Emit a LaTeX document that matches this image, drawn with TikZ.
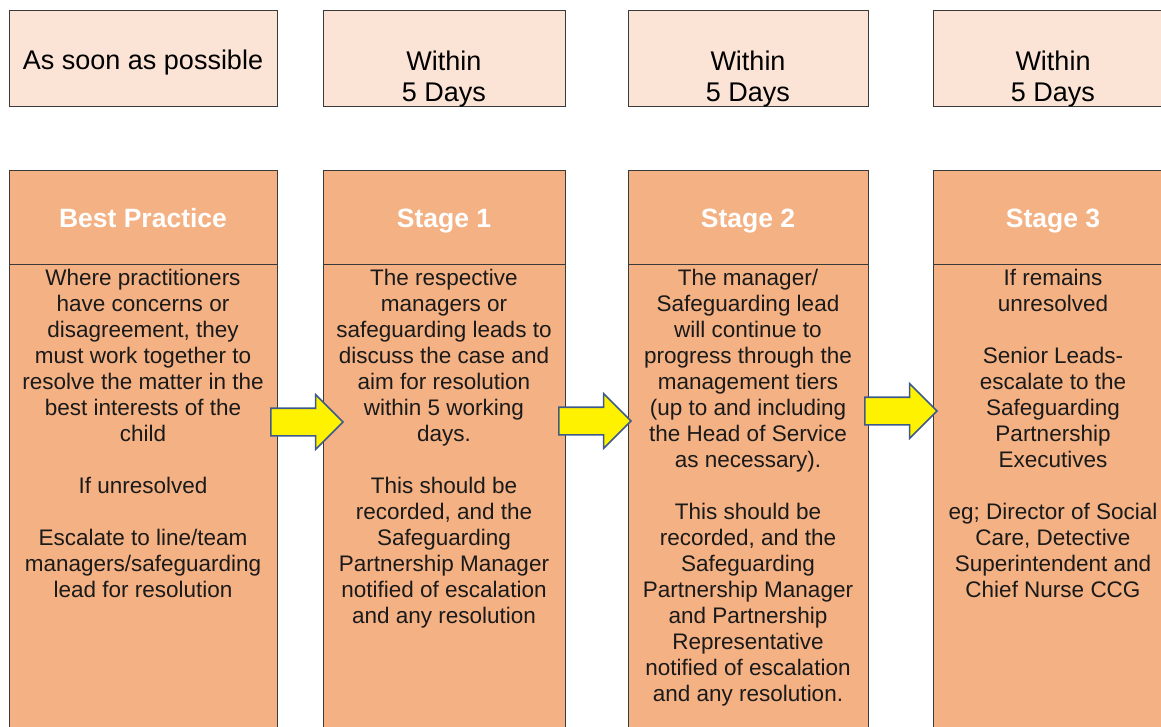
\documentclass[tikz,border=0pt]{standalone}
\usepackage{fontspec}
\setmainfont{Liberation Sans}
\usetikzlibrary{shapes.arrows}
\definecolor{lightpeach}{HTML}{FBE4D5}
\definecolor{peach}{HTML}{F4B183}
\definecolor{edgegrey}{HTML}{3A3A3A}
\definecolor{arrowedge}{HTML}{3E5A8A}
\definecolor{bodyink}{HTML}{1A1A1A}
\begin{document}
\begin{tikzpicture}[x=1pt,y=-1pt,
  frame/.style={draw=edgegrey, line width=1.3pt, anchor=north west, inner sep=0pt},
  topbox/.style={frame, fill=lightpeach},
  hdrbox/.style={frame, fill=peach},
  bodybox/.style={frame, fill=peach},
  toptext/.style={anchor=base, inner sep=0pt, align=center, text=black,
    font=\fontsize{27}{31}\selectfont},
  hdrtext/.style={anchor=base, inner sep=0pt, text=white,
    font=\fontsize{26.5}{30}\selectfont\bfseries},
  bodytext/.style={anchor=base, inner sep=0pt, align=center, text=bodyink,
    font=\fontsize{22.5}{26}\selectfont},
  yarrow/.style={single arrow, draw=arrowedge, line width=1.6pt, fill=yellow,
    inner sep=0pt, text height=13pt, text depth=13pt, text width=0pt,
    single arrow head extend=13.5pt, minimum height=72pt, minimum width=53pt}
]
\useasboundingbox (0,0) rectangle (1161,726);
\clip (0,0) rectangle (1161,726);

% top timing boxes
\node[topbox, minimum width=268pt, minimum height=96pt] (p1) at (9,10) {};
\node[topbox, minimum width=242pt, minimum height=96pt] (p2) at (323,10) {};
\node[topbox, minimum width=240pt, minimum height=96pt] (p3) at (628,10) {};
\node[topbox, minimum width=240pt, minimum height=96pt] (p4) at (933,10) {};
% (base anchor of a multi-line node = baseline of its last line)
\node[toptext] (pt1) at (143,69) {As soon as possible};
\node[toptext] (pt2) at (444,101) {Within\\5 Days};
\node[toptext] (pt3) at (748,101) {Within\\5 Days};
\node[toptext] (pt4) at (1053,101) {Within\\5 Days};

% stage header boxes
\node[hdrbox, minimum width=268pt, minimum height=94pt] (h1) at (9,170) {};
\node[hdrbox, minimum width=242pt, minimum height=94pt] (h2) at (323,170) {};
\node[hdrbox, minimum width=240pt, minimum height=94pt] (h3) at (628,170) {};
\node[hdrbox, minimum width=240pt, minimum height=94pt] (h4) at (933,170) {};
\node[hdrtext] (ht1) at (143,227) {Best Practice};
\node[hdrtext] (ht2) at (444,227) {Stage 1};
\node[hdrtext] (ht3) at (748,227) {Stage 2};
\node[hdrtext] (ht4) at (1053,227) {Stage 3};

% body boxes
\node[bodybox, minimum width=268pt, minimum height=480pt] (b1) at (9,264) {};
\node[bodybox, minimum width=242pt, minimum height=480pt] (b2) at (323,264) {};
\node[bodybox, minimum width=240pt, minimum height=480pt] (b3) at (628,264) {};
\node[bodybox, minimum width=240pt, minimum height=480pt] (b4) at (933,264) {};

\node[bodytext] (bt1) at (143,597) {Where practitioners\\have concerns or\\disagreement, they\\must work together to\\resolve the matter in the\\best interests of the\\child\\[26pt]If unresolved\\[26pt]Escalate to line/team\\managers/safeguarding\\lead for resolution};
\node[bodytext] (bt2) at (444,623) {The respective\\managers or\\safeguarding leads to\\discuss the case and\\aim for resolution\\within 5 working\\days.\\[26pt]This should be\\recorded, and the\\Safeguarding\\Partnership Manager\\notified of escalation\\and any resolution};
\node[bodytext] (bt3) at (748,701) {The manager/\\Safeguarding lead\\will continue to\\progress through the\\management tiers\\(up to and including\\the Head of Service\\as necessary).\\[26pt]This should be\\recorded, and the\\Safeguarding\\Partnership Manager\\and Partnership\\Representative\\notified of escalation\\and any resolution.};
\node[bodytext] (bt4) at (1053,597) {If remains\\unresolved\\[26pt]Senior Leads-\\escalate to the\\Safeguarding\\Partnership\\Executives\\[26pt]eg; Director of Social\\Care, Detective\\Superintendent and\\Chief Nurse CCG};

% yellow block arrows
\node[yarrow] (a1) at (300,422) {};
\node[yarrow] (a2) at (588,421) {};
\node[yarrow] (a3) at (894,411) {};
\end{tikzpicture}
\end{document}
